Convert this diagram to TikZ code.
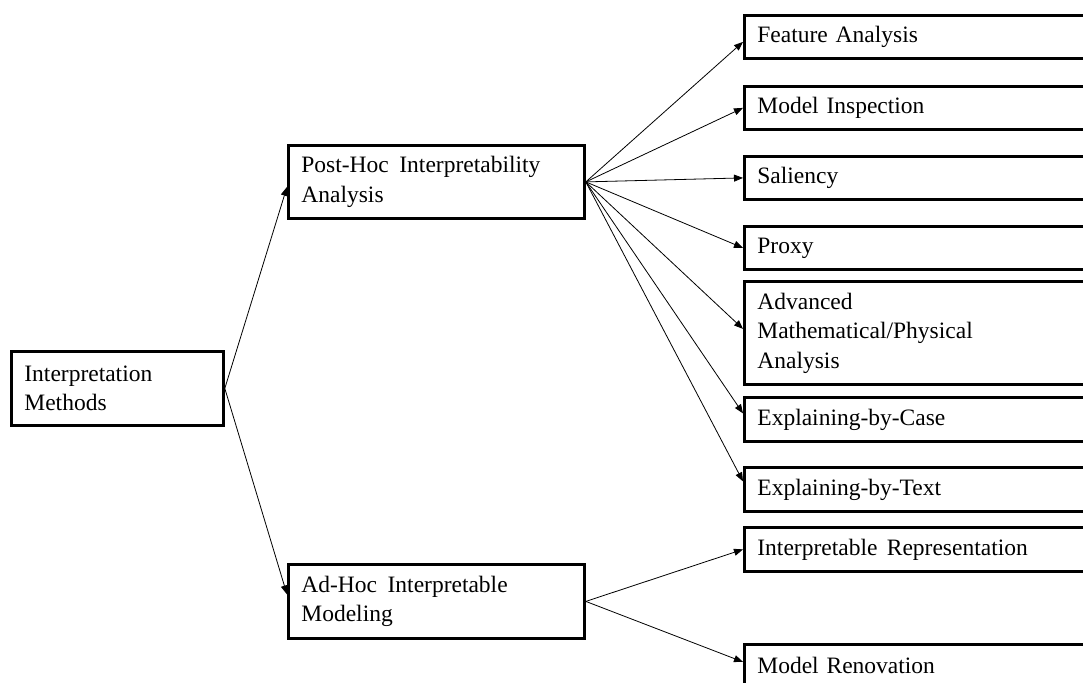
\documentclass[tikz,border=0pt]{standalone}
\usepackage{fontspec}
\setmainfont{Liberation Serif}
\usetikzlibrary{arrows.meta}
\begin{document}
\begin{tikzpicture}[x=1pt,y=-1pt,
  box/.style={draw, line width=2.8pt, inner sep=0pt, anchor=north west,
    align=left, font=\fontsize{23.5}{29.5}\selectfont},
  leftbox/.style={box, minimum width=212pt, text width=186pt},
  midbox/.style={box, minimum width=296pt, text width=270pt},
  rightbox/.style={box, minimum width=360pt, text width=334pt},
  link/.style={line width=0.8pt, -{Triangle[length=9pt,width=7pt]}}]
\path[use as bounding box] (0,0) rectangle (1083,682);
\clip (0,0) rectangle (1083,682);

% root
\node[leftbox, minimum height=74pt] (im) at (10,350) {Interpretation\\Methods};

% second level
\node[midbox, minimum height=73pt] (ph) at (287,144) {Post-Hoc\hspace{0.45em}Interpretability\\Analysis};
\node[midbox, minimum height=74pt] (ah) at (287,563) {Ad-Hoc\hspace{0.45em}Interpretable\\Modeling};

% leaves
\node[rightbox, minimum height=43pt] (fa)  at (743,14)  {Feature Analysis};
\node[rightbox, minimum height=43pt] (mi)  at (743,85)  {Model Inspection};
\node[rightbox, minimum height=43pt] (sal) at (743,155) {Saliency};
\node[rightbox, minimum height=43pt] (pr)  at (743,225) {Proxy};
\node[rightbox, minimum height=103pt] (adv) at (743,280) {Advanced\\Mathematical/Physical\\Analysis};
\node[rightbox, minimum height=44pt] (ebc) at (743,396) {Explaining-by-Case};
\node[rightbox, minimum height=44pt] (ebt) at (743,466) {Explaining-by-Text};
\node[rightbox, minimum height=44pt] (ir)  at (743,526) {Interpretable\hspace{0.4em}Representation};
\node[rightbox, minimum height=43pt] (mr)  at (743,643) {Model Renovation};

% connectors
\draw[link] (im.east) -- ([yshift=-5pt]ph.west);
\draw[link] (im.east) -- ([yshift=7pt]ah.west);

\draw[link] (ph.east) -- ([yshift=-5pt]fa.west);
\draw[link] (ph.east) -- (mi.west);
\draw[link] (ph.east) -- (sal.west);
\draw[link] (ph.east) -- (pr.west);
\draw[link] (ph.east) -- ([yshift=4pt]adv.west);
\draw[link] (ph.east) -- ([yshift=6pt]ebc.west);
\draw[link] (ph.east) -- ([yshift=8pt]ebt.west);

\draw[link] (ah.east) -- (ir.west);
\draw[link] (ah.east) -- ([yshift=4pt]mr.west);
\end{tikzpicture}
\end{document}
